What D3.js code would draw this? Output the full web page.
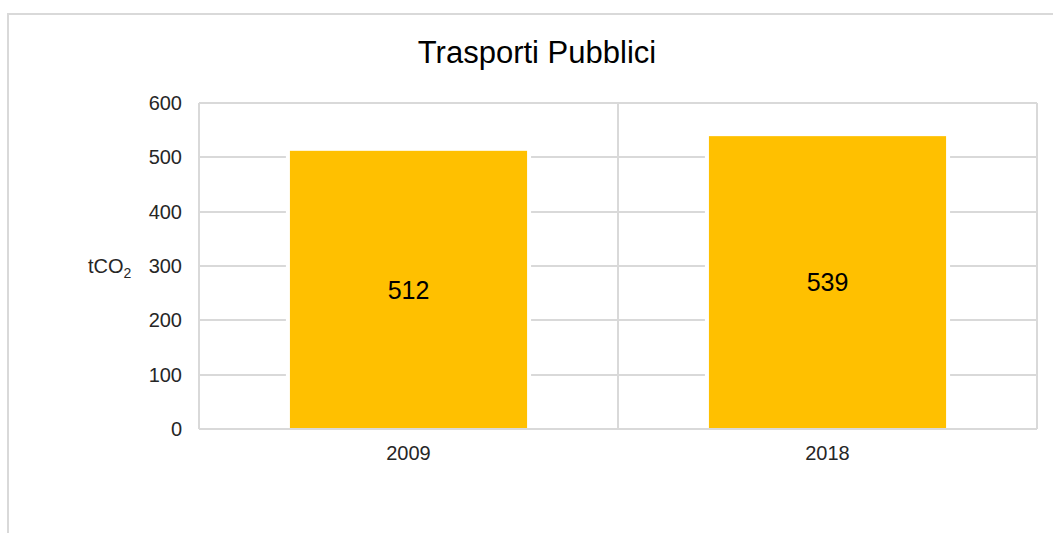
<!DOCTYPE html>
<html>
<head>
  <script src="https://d3js.org/d3.v7.min.js"></script>
  <style>
    body { margin: 0; background: #fff; }
    text { font-family: "Liberation Sans", Arial, sans-serif; fill: #262626; }
    .grid line { stroke: #d9d9d9; stroke-width: 2; shape-rendering: crispEdges; }
    .bar { fill: #ffc000; stroke: #fff; stroke-width: 4; }
  </style>
</head>
<body>
  <svg class="chart"></svg>
  <script>
    var categories = ['2009', '2018'];
    var values = [512, 539];
    var yTicks = [0, 100, 200, 300, 400, 500, 600];

    var W = 1053, H = 533;
    var plot = { left: 199, right: 1037, top: 103, bottom: 429 };

    var svg = d3.select('.chart')
      .attr('width', W)
      .attr('height', H);

    // chart area frame (runs past the right and bottom edges)
    svg.append('rect')
      .attr('x', 8).attr('y', 14)
      .attr('width', W + 20).attr('height', H + 20)
      .attr('fill', '#fff')
      .attr('stroke', '#d9d9d9')
      .attr('stroke-width', 2);

    var x = d3.scaleBand()
      .domain(categories)
      .range([plot.left, plot.right])
      .padding(0);

    var y = d3.scaleLinear()
      .domain([0, 600])
      .range([plot.bottom, plot.top]);

    var barW = x.bandwidth() * 0.566;

    // horizontal gridlines
    var grid = svg.append('g').attr('class', 'grid');
    grid.selectAll('.h')
      .data(yTicks.filter(function (d) { return d > 0; }))
      .enter().append('line')
      .attr('x1', plot.left).attr('x2', plot.right)
      .attr('y1', function (d) { return y(d); })
      .attr('y2', function (d) { return y(d); });

    // vertical gridlines at category edges
    var edges = categories.map(function (c) { return x(c); }).concat([plot.right]);
    grid.selectAll('.v')
      .data(edges)
      .enter().append('line')
      .attr('x1', function (d) { return d; }).attr('x2', function (d) { return d; })
      .attr('y1', plot.top).attr('y2', plot.bottom);

    // bars (white outline keeps gridlines off the fill)
    svg.selectAll('.bar')
      .data(values)
      .enter().append('rect')
      .attr('class', 'bar')
      .attr('x', function (d, i) { return x(categories[i]) + (x.bandwidth() - barW) / 2 - 2; })
      .attr('y', function (d) { return y(d) - 2; })
      .attr('width', barW + 4)
      .attr('height', function (d) { return plot.bottom - y(d) + 4; });

    // baseline on top of bars
    svg.append('g').attr('class', 'grid')
      .append('line')
      .attr('x1', plot.left).attr('x2', plot.right)
      .attr('y1', y(0)).attr('y2', y(0));

    // data labels
    svg.selectAll('.lbl')
      .data(values)
      .enter().append('text')
      .attr('x', function (d, i) { return x(categories[i]) + x.bandwidth() / 2; })
      .attr('y', function (d) { return (y(d) + y(0)) / 2; })
      .attr('dy', '0.35em')
      .attr('text-anchor', 'middle')
      .style('font-size', '25px')
      .style('fill', '#000')
      .text(function (d) { return d; });

    // y tick labels
    svg.selectAll('.ytick')
      .data(yTicks)
      .enter().append('text')
      .attr('x', plot.left - 17)
      .attr('y', function (d) { return y(d); })
      .attr('dy', '0.35em')
      .attr('text-anchor', 'end')
      .style('font-size', '20px')
      .text(function (d) { return d; });

    // x category labels
    svg.selectAll('.xtick')
      .data(categories)
      .enter().append('text')
      .attr('x', function (d) { return x(d) + x.bandwidth() / 2; })
      .attr('y', plot.bottom + 31)
      .attr('text-anchor', 'middle')
      .style('font-size', '20px')
      .text(function (d) { return d; });

    // y axis unit label
    var unit = svg.append('text')
      .attr('x', 88)
      .attr('y', 273)
      .style('font-size', '20px');
    unit.append('tspan').text('tCO');
    unit.append('tspan').attr('dy', 5).style('font-size', '14px').text('2');

    // title
    svg.append('text')
      .attr('x', 537)
      .attr('y', 63)
      .attr('text-anchor', 'middle')
      .style('font-size', '31px')
      .style('fill', '#000')
      .text('Trasporti Pubblici');
  </script>
</body>
</html>
